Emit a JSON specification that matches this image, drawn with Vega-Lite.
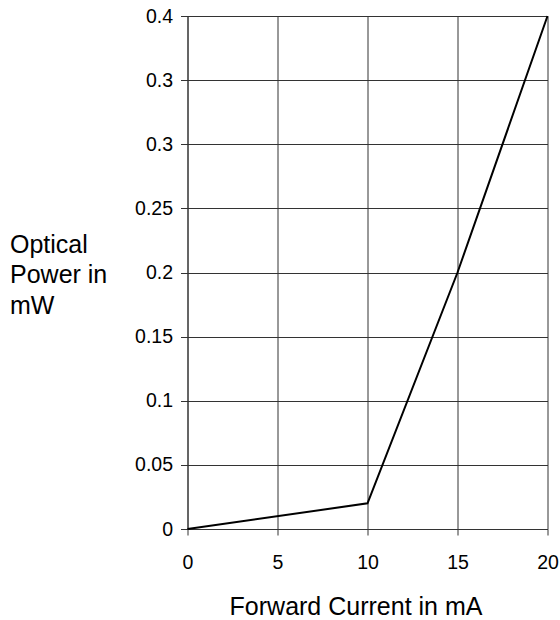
{
  "$schema": "https://vega.github.io/schema/vega-lite/v6.json",
  "autosize": "none",
  "width": 360,
  "height": 513,
  "padding": {"left": 187.5, "top": 16, "right": 12.5, "bottom": 91},
  "background": "white",
  "config": {
    "view": {"stroke": null},
    "font": "Liberation Sans",
    "axis": {"labelFont": "Liberation Sans", "titleFont": "Liberation Sans", "labelColor": "black", "titleColor": "black", "titleFontWeight": "normal", "gridColor": "#333333", "gridOpacity": 1, "domainColor": "#333333", "tickColor": "#333333", "gridWidth": 1, "domainWidth": 1, "tickWidth": 1}
  },
  "data": {"values": [
    {"current": 0, "power": 0},
    {"current": 10, "power": 0.02},
    {"current": 15, "power": 0.2},
    {"current": 20, "power": 0.4}
  ]},
  "mark": {"type": "line", "color": "black", "strokeWidth": 2},
  "encoding": {
    "x": {"field": "current", "type": "quantitative", "scale": {"domain": [0, 20], "nice": false},
      "axis": {"values": [0, 5, 10, 15, 20], "format": "~g", "title": "Forward Current in mA",
        "titleFontSize": 25, "titleBaseline": "alphabetic", "titleY": 85, "titleX": 168,
        "labelFontSize": 19.5, "tickSize": 6, "labelPadding": 18, "labelFlush": false}},
    "y": {"field": "power", "type": "quantitative", "scale": {"domain": [0, 0.4], "nice": false},
      "axis": {"values": [0, 0.05, 0.1, 0.15, 0.2, 0.25, 0.3, 0.35, 0.4], "format": "~g",
        "labelExpr": "datum.value == 0.35 ? '0.3' : datum.label",
        "title": ["Optical", "Power in", "mW"], "titleAngle": 0, "titleAlign": "left", "titleBaseline": "alphabetic",
        "titleX": -178, "titleY": 236, "titleFontSize": 25, "titleLineHeight": 30.5,
        "labelFontSize": 19.5, "tickSize": 7, "labelPadding": 8, "labelFlush": false}}
  }
}
